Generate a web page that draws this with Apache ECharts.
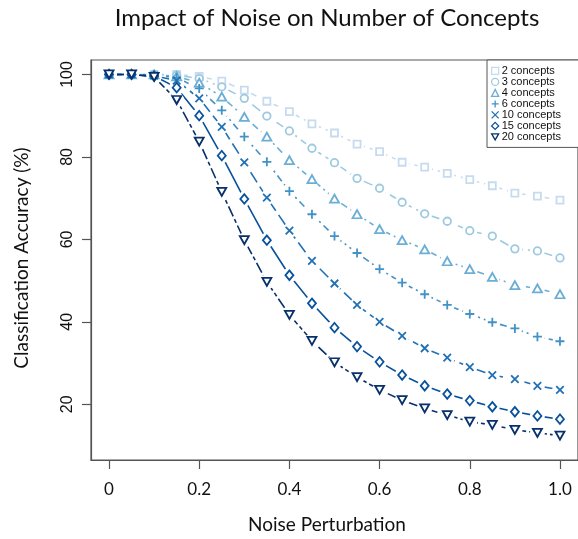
<!DOCTYPE html>
<html>
<head>
<meta charset="utf-8">
<script src="https://cdn.jsdelivr.net/npm/echarts@6/dist/echarts.min.js"></script>
<style>html,body{margin:0;padding:0;background:#fff}#chart{width:578px;height:539px}</style>
</head>
<body>
<div id="chart"></div>
<script>
// ---- data ----
const noise = [0,0.05,0.1,0.15,0.2,0.25,0.3,0.35,0.4,0.45,0.5,0.55,0.6,0.65,0.7,0.75,0.8,0.85,0.9,0.95,1.0];
const concepts2  = [100,100,100,100,99.5,98.4,96.2,93.5,91.0,88.0,85.8,83.1,81.3,78.7,77.5,76.0,74.5,73.0,71.2,70.5,69.5];
const concepts3  = [100,100,100,99.8,99.0,97.0,94.2,89.9,86.3,82.1,78.6,74.8,72.4,69.0,66.2,64.4,62.1,60.8,57.7,57.2,55.5];
const concepts4  = [100,100,100,99.5,98.0,94.6,89.7,84.9,79.2,74.6,69.9,66.1,62.5,59.8,57.6,54.7,52.8,50.9,48.9,48.1,46.7];
const concepts6  = [100,100,99.8,99.2,96.6,91.3,84.9,78.8,71.7,66.1,60.8,56.7,52.8,49.5,46.7,44.1,41.9,39.9,38.4,36.4,35.3];
const concepts10 = [100,100,99.7,98.5,94.2,87.3,78.7,70.1,62.1,54.8,49.3,44.1,40.0,36.6,33.6,31.3,29.0,27.1,26.1,24.5,23.5];
const concepts15 = [100,100,99.6,96.8,90.0,80.3,69.8,59.8,51.3,44.5,38.6,34.0,30.3,27.1,24.5,22.5,20.9,19.4,18.2,17.2,16.4];
const concepts20 = [100,100,99.4,93.8,83.7,71.5,59.8,49.7,41.7,35.4,30.2,26.6,23.5,21.0,19.0,17.4,15.8,15.0,13.8,13.1,12.4];
const seriesNames = ['2 concepts','3 concepts','4 concepts','6 concepts','10 concepts','15 concepts','20 concepts'];
const xTicks = [0,0.2,0.4,0.6,0.8,1.0];
const yTicks = [20,40,60,80,100];

// ---- styles ----
const allValues = [concepts2,concepts3,concepts4,concepts6,concepts10,concepts15,concepts20];
const colors = ['#c6dbef','#9ecae1','#6baed6','#4292c6','#2171b5','#08519c','#08306b'];
const symbols = ['rect','circle','triangle','path://M5,0L5,10M0,5L10,5','path://M0,0L10,10M10,0L0,10','diamond','path://M0,0L10,0L5,8.66Z'];
const symSizes = [7,7.5,[9,8],9,7.5,[8,9.5],[9,8]];
const dashes = [[7,5],[10,5],[2,4,7,4],[2,4,7,4],[12,5],'solid',[4,3,11,3]];

const series = [];
const pairs = allValues.map(vals => noise.map((x,i)=>[x, vals[i]]));
pairs.forEach((d,k)=>{
  series.push({type:'line', name:'line'+k, data:d, showSymbol:false, symbol:'none', silent:true, z:2,
    lineStyle:{color:colors[k], width:1.6, type:dashes[k]}});
});
pairs.forEach((d,k)=>{
  series.push({type:'scatter', name:'halo'+k, data:d, symbol:'circle', symbolSize:15, silent:true, z:3,
    itemStyle:{color:'#ffffff', opacity:1}});
});
pairs.forEach((d,k)=>{
  series.push({type:'scatter', name:seriesNames[k], data:d, symbol:symbols[k], symbolSize:symSizes[k], silent:true, z:4,
    itemStyle:{color:'#fff', borderColor:colors[k], borderWidth:1.8, opacity:1}});
});

const chart = echarts.init(document.getElementById('chart'), null, {renderer:'canvas'});
chart.setOption({
  animation:false,
  backgroundColor:'#fff',
  grid:{left:91, top:60, width:489, height:400, show:true, borderColor:'#555', borderWidth:1.2, backgroundColor:'transparent'},
  xAxis:{type:'value', min:-0.04, max:1.04,
    axisLine:{show:true, onZero:false, lineStyle:{color:'#555', width:1.2}},
    axisTick:{show:true, length:9, inside:false, customValues:xTicks, lineStyle:{color:'#555', width:1.2}},
    axisLabel:{customValues:xTicks, margin:21, color:'#111', fontFamily:'Lato', fontSize:17,
      formatter:v=> v===0 ? '0' : v.toFixed(1)},
    splitLine:{show:false}},
  yAxis:{type:'value', min:6.5, max:103.5,
    axisLine:{show:true, onZero:false, lineStyle:{color:'#555', width:1.2}},
    axisTick:{show:true, length:9, inside:false, customValues:yTicks, lineStyle:{color:'#555', width:1.2}},
    axisLabel:{customValues:yTicks, rotate:90, margin:15, color:'#111', fontFamily:'Liberation Sans', fontSize:16},
    splitLine:{show:false}},
  legend:{orient:'vertical', left:487, top:60, padding:[5.4,20,5,4], itemGap:0, itemWidth:7, itemHeight:7, z:10,
    backgroundColor:'#fff', borderColor:'#555', borderWidth:1, selectedMode:false,
    textStyle:{fontFamily:'Liberation Sans', fontSize:11, color:'#111', lineHeight:10.6, padding:[0,0,0,-2]},
    data: seriesNames.map((n,k)=>({name:n, icon:symbols[k], itemStyle:{color:'#fff', borderColor:colors[k], borderWidth:1.3}}))},
  graphic:[
    {type:'text', x:327, y:18, style:{text:'Impact of Noise on Number of Concepts', font:'24px Lato', fill:'#111', align:'center', verticalAlign:'middle'}},
    {type:'text', x:327, y:525, style:{text:'Noise Perturbation', font:'19px Lato', fill:'#111', align:'center', verticalAlign:'middle'}},
    {type:'text', x:22, y:258, rotation:Math.PI/2, style:{text:'Classification Accuracy (%)', font:'19px Lato', fill:'#111', align:'center', verticalAlign:'middle'}}
  ],
  series: series
});
</script>
</body>
</html>
